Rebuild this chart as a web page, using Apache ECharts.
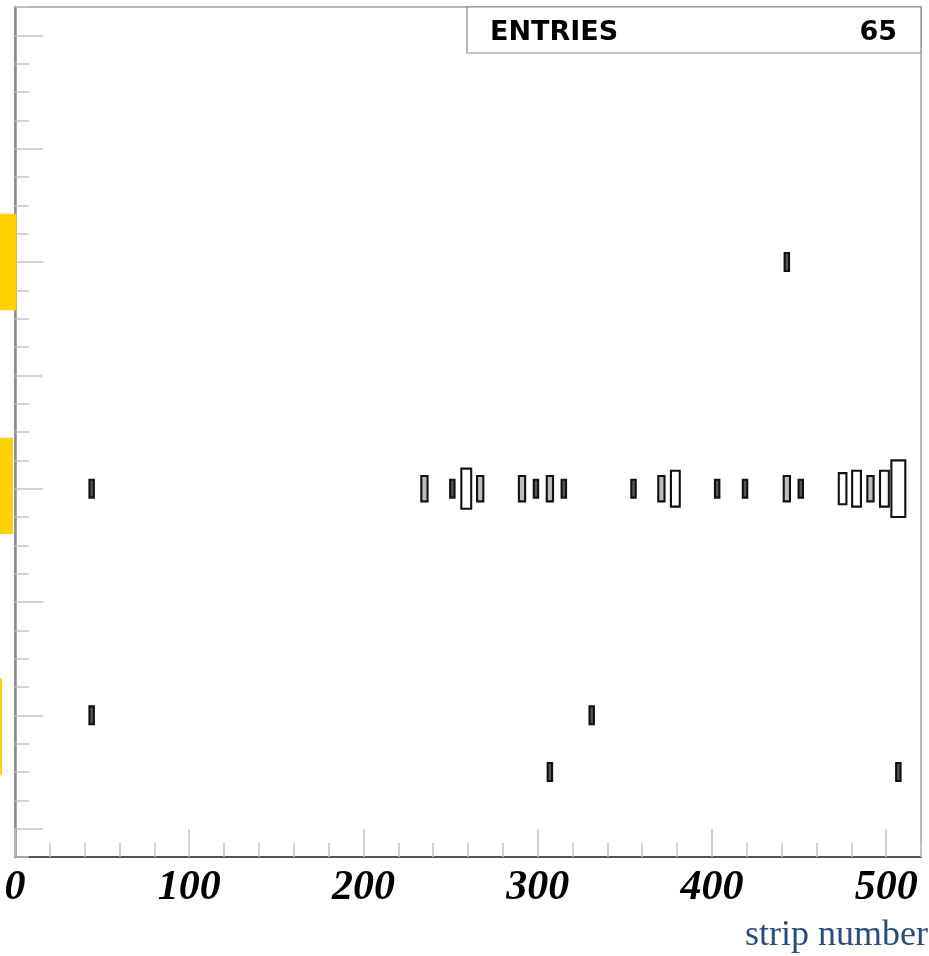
<!DOCTYPE html>
<html>
<head>
<meta charset="utf-8">
<script src="https://cdn.jsdelivr.net/npm/echarts@6/dist/echarts.min.js"></script>
<style>html,body{margin:0;padding:0;background:#fff}#c{width:929px;height:956px}</style>
</head>
<body>
<div id="c"></div>
<script>
// ---- data ----
const xTickLabels = [0, 100, 200, 300, 400, 500];
const yMajorTicks = [1, 5, 9, 13, 17, 21, 25, 29];
const entries = 65;
const xTitle = 'strip number';

// rows (y value) with box centres (strip) and contents
const row21Strips = [443];
const row21Counts = [1];
const row13Strips = [44, 235, 251, 259, 267, 291, 299, 307, 315, 355, 371, 379, 403, 419, 443, 451, 475, 483, 491, 499, 507];
const row13Counts = [1, 2, 1, 5, 2, 2, 1, 2, 1, 1, 2, 4, 1, 1, 2, 1, 3, 4, 2, 4, 10];
const row5Strips = [44, 331];
const row5Counts = [1, 1];
const row3Strips = [307, 507];
const row3Counts = [1, 1];

// highlighted row bands (y ranges) marked on the left edge
const highlightLow = [19.3, 11.4, 2.9];
const highlightHigh = [22.7, 14.8, 6.3];

// ---- build ----
const BIN_X = 8, BIN_Y = 2;
function rowData(strips, counts, y) { return strips.map((s, i) => [s, y, counts[i]]); }
const boxData = [].concat(
  rowData(row21Strips, row21Counts, 21),
  rowData(row13Strips, row13Counts, 13),
  rowData(row5Strips, row5Counts, 5),
  rowData(row3Strips, row3Counts, 3)
);
const maxCount = Math.max(...boxData.map(d => d[2]));

const chart = echarts.init(document.getElementById('c'), null, {renderer: 'canvas'});
const tickColor = '#c4c4c4';
chart.setOption({
  animation: false,
  backgroundColor: '#fff',
  grid: {left: 15, right: 8, top: 7, bottom: 99, show: true, borderColor: '#a0a0a0', borderWidth: 1.5},
  xAxis: [
    {type: 'value', min: 0, max: 520, interval: 20, position: 'bottom',
     axisLine: {show: true, onZero: false, lineStyle: {color: '#555', width: 2}},
     axisTick: {show: true, inside: true, length: 14, lineStyle: {color: tickColor, width: 1.5}},
     axisLabel: {show: false}, splitLine: {show: false}},
    {type: 'value', min: 0, max: 520, position: 'bottom',
     axisLine: {show: false},
     axisTick: {show: true, inside: true, length: 28, customValues: xTickLabels, lineStyle: {color: tickColor, width: 1.5}},
     axisLabel: {show: true, customValues: xTickLabels, margin: 10,
       fontFamily: 'Liberation Serif', fontStyle: 'italic', fontWeight: 'bold', fontSize: 42, lineHeight: 42, color: '#000'},
     splitLine: {show: false}}
  ],
  yAxis: [
    {type: 'value', min: 0, max: 30, interval: 1, position: 'left',
     axisLine: {show: true, onZero: false, lineStyle: {color: '#8a8a8a', width: 2.5}},
     axisTick: {show: true, inside: true, length: 14, lineStyle: {color: tickColor, width: 1.5}},
     axisLabel: {show: false}, splitLine: {show: false}},
    {type: 'value', min: 0, max: 30, position: 'left',
     axisLine: {show: false},
     axisTick: {show: true, inside: true, length: 28, customValues: yMajorTicks, lineStyle: {color: tickColor, width: 1.5}},
     axisLabel: {show: false}, splitLine: {show: false}}
  ],
  series: [{
    type: 'custom',
    xAxisIndex: 0, yAxisIndex: 0,
    data: boxData,
    renderItem: function (params, api) {
      const x = api.value(0), y = api.value(1), n = api.value(2);
      const c = api.coord([x, y]);
      const s = api.size([BIN_X, BIN_Y]);
      const r = Math.sqrt(n / maxCount);
      const w = s[0] * r, h = s[1] * r;
      const fill = n <= 1 ? '#555' : (n === 2 ? '#bdbdbd' : '#fff');
      return {type: 'rect', shape: {x: c[0] - w / 2, y: c[1] - h / 2, width: w, height: h},
        style: {fill: fill, stroke: '#111', lineWidth: 2.1}};
    }
  }]
});

// overlays: highlight bands, entries box, axis title
const gRight = chart.convertToPixel({xAxisIndex: 0}, 520);
const gTop = chart.convertToPixel({yAxisIndex: 0}, 30);
const bandWidths = [16.5, 13, 2];
const graphics = highlightLow.map((lo, i) => {
  const y1 = chart.convertToPixel({yAxisIndex: 0}, highlightHigh[i]);
  const y2 = chart.convertToPixel({yAxisIndex: 0}, lo);
  return {type: 'rect', z: 100, shape: {x: 0, y: y1, width: bandWidths[i], height: y2 - y1}, style: {fill: '#FFD100'}};
});
graphics.push({type: 'rect', z: 50, shape: {x: 467, y: gTop, width: gRight - 467, height: 46},
  style: {fill: '#fff', stroke: '#8a8a8a', lineWidth: 1.2}});
graphics.push({type: 'text', z: 51, x: 490, y: gTop + 26,
  style: {text: 'ENTRIES', fontFamily: 'DejaVu Sans', fontWeight: 'bold', fontSize: 27, fill: '#000', textVerticalAlign: 'middle', verticalAlign: 'middle'}});
graphics.push({type: 'text', z: 51, x: 897, y: gTop + 26,
  style: {text: String(entries), fontFamily: 'DejaVu Sans', fontWeight: 'bold', fontSize: 27, fill: '#000', align: 'right', textAlign: 'right', verticalAlign: 'middle', textVerticalAlign: 'middle'}});
graphics.push({type: 'text', z: 51, x: 928, y: 936,
  style: {text: xTitle, fontFamily: 'Liberation Serif', fontSize: 36, fill: '#264d7e', align: 'right', textAlign: 'right', verticalAlign: 'middle', textVerticalAlign: 'middle'}});
chart.setOption({graphic: graphics});
</script>
</body>
</html>
